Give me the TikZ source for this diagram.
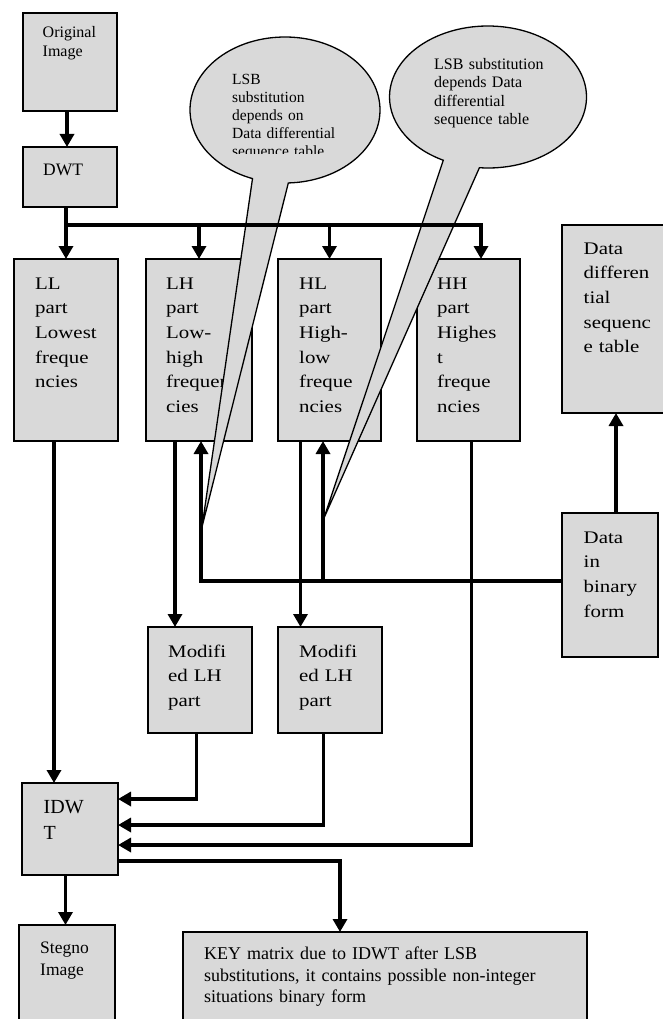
\documentclass[tikz,border=0pt]{standalone}
\usepackage{fontspec}
\setmainfont{Liberation Serif}
\newfontfamily\widefont{Liberation Serif}[FakeStretch=1.18]
\usetikzlibrary{arrows.meta}
\definecolor{boxgray}{RGB}{217,217,217}

\begin{document}
\begin{tikzpicture}[x=1pt,y=-1pt]
	\tikzstyle{block}=[draw,line width=1.8pt,fill=boxgray,inner sep=0,outer sep=0,anchor=north west]
	\tikzstyle{txt}=[anchor=base west,inner sep=0,align=left,text width=400pt]
	\tikzstyle{wide}=[txt,font=\widefont\fontsize{17.7}{24.7}\selectfont]
	\tikzstyle{arr}=[line width=3.5pt,-{Triangle[length=13pt,width=14pt]}]
	\tikzstyle{bubble}=[draw,line width=1.3pt,fill=boxgray]

	\clip (0,0) rectangle (663,1019);

	% boxes
	\node[block,minimum width=94pt,minimum height=98pt] (orig) at (23,13) {};
	\node[block,minimum width=94pt,minimum height=60pt] (dwt) at (23,147) {};
	\node[block,minimum width=104pt,minimum height=182pt] (ll) at (14,259) {};
	\node[block,minimum width=106pt,minimum height=182pt] (lh) at (146,259) {};
	\node[block,minimum width=103pt,minimum height=182pt] (hl) at (278,259) {};
	\node[block,minimum width=103pt,minimum height=182pt] (hh) at (417,259) {};
	\node[block,minimum width=106pt,minimum height=188pt] (ddt) at (562,225) {};
	\node[block,minimum width=96pt,minimum height=144pt] (dbin) at (562,513) {};
	\node[block,minimum width=104pt,minimum height=106pt] (mlh1) at (148,627) {};
	\node[block,minimum width=104pt,minimum height=106pt] (mlh2) at (278,627) {};
	\node[block,minimum width=96pt,minimum height=92pt] (idwt) at (22,783) {};
	\node[block,minimum width=96pt,minimum height=110pt] (stego) at (19,925) {};
	\node[block,minimum width=404pt,minimum height=110pt] (key) at (183,932) {};

	% texts
	\node[txt,font=\fontsize{16}{19}\selectfont] (origt) at (42.5,37.5) {Original\\Image};
	\node[txt,font=\fontsize{17.5}{21}\selectfont] (dwtt) at (43,175.5) {DWT};
	\node[wide] (llt) at (35,289) {LL\\part\\Lowest\\freque\\ncies};
	\node[wide] (lht) at (166,289) {LH\\part\\Low-\\high\\frequen\\cies};
	\node[wide] (hlt) at (299,289) {HL\\part\\High-\\low\\freque\\ncies};
	\node[wide] (hht) at (437,289) {HH\\part\\Highes\\t\\freque\\ncies};
	\node[wide] (ddtt) at (583.5,254) {Data\\differen\\tial\\sequenc\\e table};
	\node[wide] (dbint) at (583.5,543) {Data\\in\\binary\\form};
	\node[wide] (mlh1t) at (168,657) {Modifi\\ed LH\\part};
	\node[wide] (mlh2t) at (299,657) {Modifi\\ed LH\\part};
	\node[txt,font=\fontsize{20}{26}\selectfont] (idwtt) at (43.5,813) {IDW\\T};
	\node[txt,font=\fontsize{17.5}{22}\selectfont] (stegot) at (40,953.5) {Stegno\\Image};
	\node[txt,font=\fontsize{18}{21.5}\selectfont] (keyt) at (204,959.5) {KEY matrix due to IDWT after LSB\\substitutions, it contains possible non-integer\\situations binary form};

	% callouts
	\filldraw[bubble] (285,110) ++(88:95 and 73) arc[start angle=88,end angle=-250,x radius=95,y radius=73] -- (202,527) -- cycle;
	\filldraw[bubble] (488,97) ++(95:98.5 and 71) arc[start angle=95,end angle=-243,x radius=98.5,y radius=71] -- (324,518) -- cycle;
	\begin{scope}
		\clip (220,55) rectangle (370,153.5);
		\node[txt,font=\fontsize{15.5}{17.9}\selectfont] (lsba) at (232,84.5) {LSB\\substitution\\depends on\\Data differential\\sequence table};
	\end{scope}
	\node[txt,font=\fontsize{16}{18.3}\selectfont] (lsbb) at (434,69.5) {LSB substitution\\depends Data\\differential\\sequence table};

	% connectors
	\coordinate (bus) at (66,225);
	\coordinate (tap) at ([yshift=4]dbin.west);
	\draw[arr] ([xshift=-3]orig.south) -- ([xshift=-3]dwt.north);
	\draw[arr] ([xshift=-4]dwt.south) -- (ll.north);
	\draw[arr] (bus) -| ([xshift=12.5]hh.north);
	\draw[arr] (bus -| lh.north) -- (lh.north);
	\draw[arr] (bus -| hl.north) -- (hl.north);
	\draw[arr] ([xshift=-12]ll.south) -- ([xshift=-16]idwt.north);
	\draw[arr] ([xshift=-24]lh.south) -- ([xshift=-24]lh.south |- mlh1.north);
	\draw[arr] ([xshift=-29]hl.south) -- ([xshift=-29]hl.south |- mlh2.north);
	\draw[arr] (tap) -| ([xshift=2]lh.south);
	\draw[arr] ([xshift=-6.5]hl.south |- tap) -- ([xshift=-6.5]hl.south);
	\draw[arr] ([xshift=6]dbin.north) -- ([xshift=6]dbin.north |- ddt.south);
	\draw[arr] ([xshift=-3.5]mlh1.south) |- ([yshift=30]idwt.east);
	\draw[arr] ([xshift=-6.5]mlh2.south) |- ([yshift=4]idwt.east);
	\draw[arr] ([xshift=3]hh.south) |- ([yshift=-16]idwt.east);
	\draw[arr] ([xshift=-4.5]idwt.south) -- ([xshift=-4.5]idwt.south |- stego.north);
	\draw[arr] ([yshift=-32]idwt.east) -| ([xshift=-45]key.north);

\end{tikzpicture}
\end{document}
